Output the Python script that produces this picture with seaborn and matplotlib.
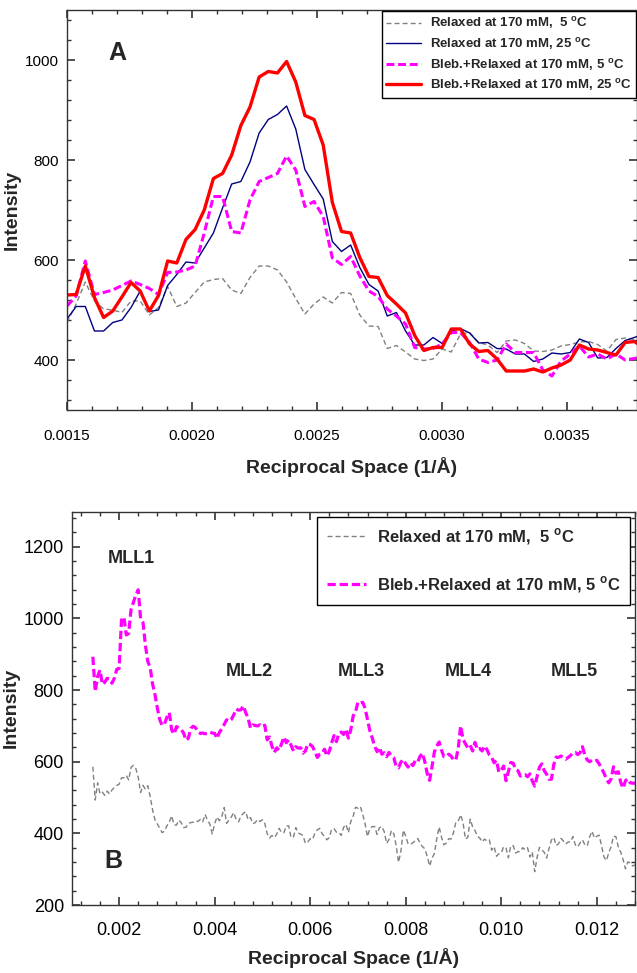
import numpy as np
import pandas as pd
import matplotlib
matplotlib.use("Agg")
import matplotlib.pyplot as plt
from matplotlib.ticker import MultipleLocator, FormatStrFormatter
import seaborn as sns

# ---------------- data: panel A ----------------
top_q_start = 0.0015
top_q_step = 0.0000366
gray_top = [475, 512, 556, 518, 502, 500, 495, 518, 518, 490,
            505, 547, 507, 514, 535, 556, 561, 563, 540, 533,
            565, 588, 588, 580, 556, 523, 492, 512, 526, 514,
            535, 533, 490, 468, 467, 423, 429, 416, 402, 399,
            402, 422, 416, 452, 455, 435, 430, 415, 438, 440,
            433, 418, 417, 420, 428, 431, 436, 437, 431, 418,
            441, 444, 441, 449]
navy_top = [482, 507, 507, 458, 458, 475, 480, 505, 538, 497,
            500, 549, 571, 596, 594, 624, 654, 704, 752, 757,
            796, 854, 881, 891, 908, 862, 781, 751, 722, 637,
            617, 630, 585, 551, 538, 488, 495, 458, 430, 430,
            445, 433, 458, 463, 454, 434, 435, 423, 422, 412,
            412, 397, 402, 414, 412, 415, 442, 435, 404, 405,
            423, 439, 445, 452]
magenta_top = [508, 528, 598, 531, 535, 540, 549, 558, 551, 543,
               531, 575, 576, 580, 588, 654, 727, 727, 657, 654,
               720, 757, 765, 773, 808, 780, 707, 717, 687, 604,
               591, 607, 568, 538, 527, 502, 488, 472, 425, 422,
               423, 432, 455, 455, 435, 402, 395, 400, 432, 415,
               415, 415, 380, 368, 398, 412, 428, 406, 412, 402,
               412, 400, 403, 408]
red_top = [530, 531, 588, 525, 485, 498, 526, 555, 538, 498,
           529, 598, 594, 641, 661, 700, 763, 773, 810, 869,
           906, 966, 977, 974, 997, 956, 889, 881, 830, 715,
           657, 654, 605, 567, 565, 529, 512, 494, 449, 419,
           425, 425, 462, 462, 432, 417, 419, 402, 378, 378,
           378, 382, 376, 384, 390, 400, 430, 422, 420, 415,
           410, 435, 437, 425]

labels_top = [r"Relaxed at 170 mM,  5 $^{\mathbf{o}}$C",
              r"Relaxed at 170 mM, 25 $^{\mathbf{o}}$C",
              r"Bleb.+Relaxed at 170 mM, 5 $^{\mathbf{o}}$C",
              r"Bleb.+Relaxed at 170 mM, 25 $^{\mathbf{o}}$C"]

# ---------------- data: panel B ----------------
bot_q_start = 0.00145
bot_q_step = 0.00005
gray_bot = [586, 493, 541, 510, 515, 506, 518, 510, 521, 528,
            534, 537, 555, 555, 562, 549, 584, 590, 581, 557,
            514, 534, 523, 533, 503, 466, 438, 426, 415, 402,
            406, 421, 431, 449, 424, 423, 437, 430, 416, 417,
            428, 430, 431, 435, 433, 439, 432, 453, 436, 426,
            398, 427, 446, 435, 447, 472, 428, 437, 446, 458,
            439, 432, 448, 456, 461, 438, 444, 427, 430, 439,
            433, 438, 428, 399, 387, 394, 388, 398, 414, 402,
            402, 421, 421, 388, 390, 416, 401, 398, 394, 372,
            376, 385, 383, 401, 410, 414, 399, 391, 382, 388,
            412, 413, 403, 403, 394, 417, 425, 402, 433, 448,
            473, 470, 475, 453, 426, 391, 414, 419, 419, 397,
            416, 419, 405, 372, 383, 408, 399, 366, 319, 351,
            409, 392, 371, 369, 374, 379, 386, 373, 363, 357,
            336, 309, 330, 344, 385, 418, 389, 368, 373, 385,
            384, 402, 431, 434, 452, 430, 384, 389, 440, 418,
            408, 392, 387, 376, 384, 379, 382, 353, 363, 336,
            343, 345, 363, 359, 332, 365, 366, 345, 349, 349,
            360, 354, 360, 334, 348, 293, 333, 361, 354, 347,
            331, 358, 381, 389, 366, 371, 386, 379, 370, 376,
            376, 391, 368, 362, 373, 382, 368, 365, 390, 406,
            387, 392, 395, 364, 334, 324, 345, 363, 392, 391,
            362, 348, 327, 301, 320, 318, 309, 312]
magenta_bot = [893, 796, 838, 856, 816, 822, 833, 831, 819, 833,
               858, 860, 996, 1004, 954, 958, 1025, 1045, 1066, 1080,
               1000, 989, 926, 880, 863, 817, 788, 750, 718, 701,
               706, 724, 737, 689, 677, 698, 695, 690, 680, 660,
               666, 693, 699, 695, 683, 679, 680, 678, 679, 683,
               680, 679, 665, 682, 692, 704, 717, 713, 718, 731,
               747, 744, 745, 756, 737, 722, 694, 703, 701, 700,
               703, 698, 702, 661, 669, 643, 626, 639, 632, 650,
               669, 653, 661, 646, 630, 642, 638, 639, 624, 630,
               650, 648, 642, 628, 612, 621, 624, 635, 616, 629,
               653, 673, 656, 679, 683, 676, 691, 666, 689, 728,
               739, 767, 764, 766, 749, 717, 686, 666, 643, 628,
               640, 621, 625, 614, 626, 616, 611, 587, 583, 599,
               606, 594, 585, 597, 589, 603, 599, 615, 624, 600,
               567, 548, 586, 627, 644, 655, 632, 614, 614, 621,
               616, 605, 605, 638, 700, 663, 650, 639, 646, 630,
               654, 634, 637, 630, 644, 634, 619, 612, 597, 604,
               571, 576, 588, 547, 572, 598, 596, 579, 575, 560,
               564, 564, 558, 566, 546, 532, 558, 585, 594, 575,
               565, 551, 551, 592, 613, 612, 616, 612, 607, 612,
               617, 625, 626, 620, 625, 642, 618, 605, 600, 604,
               601, 604, 594, 582, 568, 553, 541, 552, 586, 568,
               572, 543, 526, 547, 552, 541, 540, 540]

labels_bot = [r"Relaxed at 170 mM,  5 $^{\mathbf{o}}$C",
              r"Bleb.+Relaxed at 170 mM, 5 $^{\mathbf{o}}$C"]
peak_names = ["MLL1", "MLL2", "MLL3", "MLL4", "MLL5"]
peak_q = [0.00226, 0.00472, 0.00706, 0.00931, 0.01153]
peak_y = [1166, 853, 853, 853, 853]

# ---------------- style ----------------
sns.set_style("ticks")
plt.rcParams["font.family"] = ["Liberation Sans", "DejaVu Sans"]
plt.rcParams["mathtext.fontset"] = "custom"
plt.rcParams["mathtext.rm"] = "Liberation Sans"
plt.rcParams["mathtext.bf"] = "Liberation Sans:bold"
plt.rcParams["axes.edgecolor"] = "#333333"
plt.rcParams["axes.linewidth"] = 1.0

C_GRAY, C_NAVY, C_MAG, C_RED = "#808080", "#000080", "#FF00FF", "#FF0000"

fig = plt.figure(figsize=(6.37, 9.73), dpi=100)
axA = fig.add_axes([67 / 637, 1 - 410 / 973, 570 / 637, 400 / 973])
axB = fig.add_axes([72.3 / 637, 1 - 905 / 973, (635 - 72.3) / 637, (905 - 511.7) / 973])

# ---------------- panel A ----------------
qA = top_q_start + top_q_step * np.arange(len(red_top))
dfA = pd.DataFrame({"q": qA, "gray": gray_top, "navy": navy_top,
                    "mag": magenta_top, "red": red_top})
sns.lineplot(data=dfA, x="q", y="gray", ax=axA, color=C_GRAY, lw=1.0,
             linestyle=(0, (3.6, 2.2)), label=labels_top[0], errorbar=None)
sns.lineplot(data=dfA, x="q", y="navy", ax=axA, color=C_NAVY, lw=1.0,
             label=labels_top[1], errorbar=None)
sns.lineplot(data=dfA, x="q", y="mag", ax=axA, color=C_MAG, lw=2.2,
             linestyle=(0, (2.6, 1.2)), label=labels_top[2], errorbar=None)
sns.lineplot(data=dfA, x="q", y="red", ax=axA, color=C_RED, lw=2.4,
             label=labels_top[3], errorbar=None)

axA.set_xlim(0.0015, 0.00378)
axA.set_ylim(300, 1100)
axA.xaxis.set_major_locator(MultipleLocator(0.0005))
axA.xaxis.set_minor_locator(MultipleLocator(0.0001))
axA.xaxis.set_major_formatter(FormatStrFormatter("%.4f"))
axA.yaxis.set_major_locator(MultipleLocator(200))
axA.yaxis.set_minor_locator(MultipleLocator(40))
axA.tick_params(which="both", direction="in", top=True, right=True, colors="#333333",
                labelcolor="black")
axA.tick_params(which="major", length=6, width=1.2, labelsize=11)
axA.tick_params(which="minor", length=3, width=1.0)
axA.tick_params(axis="x", which="major", pad=14)
axA.tick_params(axis="y", which="major", pad=6)
axA.set_xlabel("Reciprocal Space (1/Å)", fontsize=14, fontweight="bold", labelpad=10)
axA.set_ylabel("Intensity", fontsize=14, fontweight="bold", labelpad=3)
axA.text(0.0017, 1014, "A", fontsize=18, fontweight="bold", ha="center", va="center")
legA = axA.legend(loc="upper right", bbox_to_anchor=(1.0, 1.0), borderaxespad=0.05,
                  fancybox=False, frameon=True, edgecolor="black", framealpha=1,
                  prop={"weight": "bold", "size": 9.5}, handlelength=2.6,
                  handletextpad=0.7, labelspacing=0.35, borderpad=0.35)
legA.get_frame().set_linewidth(1.0)

# ---------------- panel B ----------------
qB = bot_q_start + bot_q_step * np.arange(len(gray_bot))
dfB = pd.DataFrame({"q": qB, "gray": gray_bot, "mag": magenta_bot})
sns.lineplot(data=dfB, x="q", y="gray", ax=axB, color=C_GRAY, lw=1.0,
             linestyle=(0, (3.6, 2.2)), label=labels_bot[0], errorbar=None)
sns.lineplot(data=dfB, x="q", y="mag", ax=axB, color=C_MAG, lw=2.3,
             linestyle=(0, (2.6, 1.2)), label=labels_bot[1], errorbar=None)

axB.set_xlim(0.00102, 0.0128)
axB.set_ylim(200, 1298)
axB.xaxis.set_major_locator(MultipleLocator(0.002))
axB.xaxis.set_minor_locator(MultipleLocator(0.0004))
axB.xaxis.set_major_formatter(FormatStrFormatter("%.3f"))
axB.yaxis.set_major_locator(MultipleLocator(200))
axB.yaxis.set_minor_locator(MultipleLocator(40))
axB.tick_params(which="both", direction="in", top=True, right=True, colors="#333333",
                labelcolor="black")
axB.tick_params(which="major", length=6, width=1.2, labelsize=13)
axB.tick_params(which="minor", length=3, width=1.0)
axB.tick_params(axis="x", which="major", pad=12)
axB.tick_params(axis="y", which="major", pad=6)
axB.set_xlabel("Reciprocal Space (1/Å)", fontsize=14, fontweight="bold", labelpad=7)
axB.set_ylabel("Intensity", fontsize=14, fontweight="bold", labelpad=3)
axB.text(0.00187, 324, "B", fontsize=18, fontweight="bold", ha="center", va="center")
for name, xq, yv in zip(peak_names, peak_q, peak_y):
    axB.text(xq, yv, name, fontsize=13, fontweight="bold", ha="center", va="center")
legB = axB.legend(loc="upper right", bbox_to_anchor=(1.0, 1.0), borderaxespad=0.3,
                  fancybox=False, frameon=True, edgecolor="black", framealpha=1,
                  prop={"weight": "bold", "size": 12}, handlelength=2.3,
                  handletextpad=0.65, labelspacing=1.6, borderpad=0.6)
legB.get_frame().set_linewidth(1.0)

fig.savefig("out.png", dpi=100)
